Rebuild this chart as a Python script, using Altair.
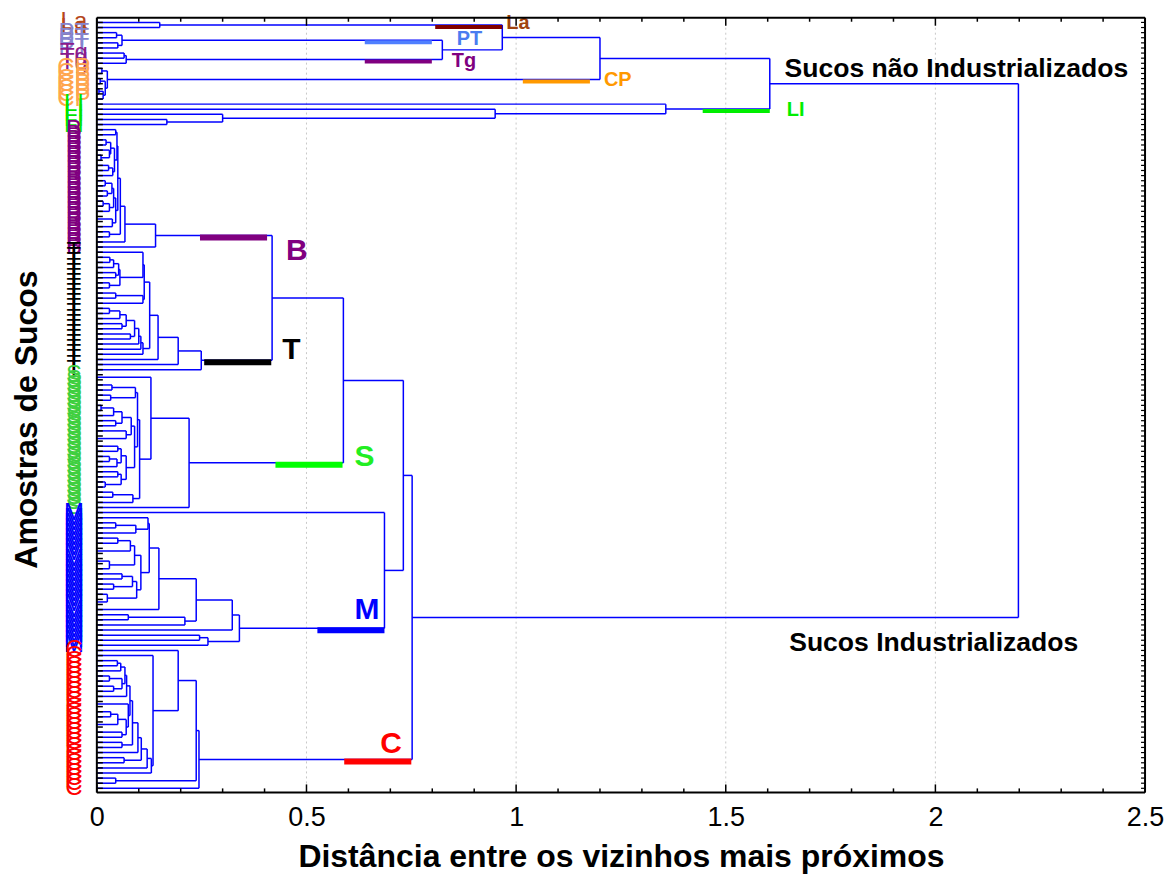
import altair as alt
import pandas as pd

L = 0  # one juice sample (leaf)

# ---- dendrogram: [merge distance, child, child, ...] ----
tree_La = [0.15, L, L]
tree_PT = [0.06, [0.047, L, L], [0.05, L, L]]
tree_Tg = [0.07, [0.065, L, L], L]
tree_CP = [0.025, [0.012, L, L], [0.02, [0.008, L, L], [0.015, [0.005, L, L], L]]]
tree_LI = [1.357, L, [0.95, L, [0.3, L, [0.167, L, L]]]]

B_top = [0.048, [0.045, L, L], [0.042, [0.033, [0.022, L, L], [0.03, L, [0.01, L, L]]], [0.038, [0.028, L, L], L]]]
B_mid = [0.045, [0.04, [0.036, [0.02, L, L], [0.025, L, L]], [0.03, [0.015, L, L], L]], [0.037, [0.0, L, L], L]]
tree_B = [0.14, [0.067, [0.056, [0.05, B_top, B_mid], [0.03, L, L]], L], L]

T_a1 = [0.055, [0.052, [0.04, [0.031, L, L], L], [0.045, L, L]], [0.03, L, L]]
T_a = [0.113, [0.11, L, T_a1], [0.11, [0.045, L, L], L]]
T_b = [0.11, [0.105, [0.1, [0.09, [0.07, [0.055, [0.03, L, L], L], [0.06, L, L]], [0.08, L, L]], L], L], L]
tree_T = [0.249, [0.194, [0.146, [0.126, T_a, T_b], L], L], L]

S_a = [0.092, [0.036, L, L], [0.033, L, L]]
S_b1 = [0.082, [0.06, [0.04, [0.01, L, L], L], [0.045, L, L]], [0.07, L, [0.0, L, L]]]
S_b2 = [0.07, [0.058, [0.05, L, L], [0.048, [0.03, L, L], L]], [0.058, [0.05, L, L], [0.02, L, L]]]
tree_S = [0.22, [0.129, [0.0, L, L], [0.102, [0.097, S_a, [0.09, S_b1, S_b2]], [0.086, [0.038, L, L], L]]], L]

M_d = [0.105, [0.09, [0.08, [0.05, L, L], [0.0, L, L]], [0.03, [0.0, L, L], L]],
       [0.095, [0.085, [0.06, L, L], [0.04, L, L]], [0.025, L, [0.0, L, L]]]]
M_c = [0.148, [0.125, [0.122, L, [0.093, [0.045, L, L], L]], M_d], L]
M_main = [0.34, [0.323, [0.237, M_c, [0.21, [0.075, L, L], L]], L], [0.265, [0.245, L, L], L]]
tree_M = [0.686, L, M_main]

C_top = [0.071, [0.067, [0.057, [0.049, L, L], L], [0.06, [0.03, L, L], [0.04, L, L]]], L]
C_mid = [0.075, [0.0, L, L], [0.07, [0.05, [0.033, L, L], [0.0, L, L]], [0.06, L, L]]]
C_chain = [0.13, [0.12, [0.106, [0.098, [0.085, [0.079, C_top, C_mid], [0.06, L, L]], L], [0.065, L, L]], L], L]
C_big = [0.134, L, C_chain]
tree_C = [0.2436, [0.237, [0.194, L, C_big], [0.045, L, L]], L]

tree_NI = [1.605, [1.2, [0.967, tree_La, [0.824, tree_PT, tree_Tg]], tree_CP], tree_LI]
tree_I = [0.752, [0.731, [0.588, [0.418, tree_B, tree_T], tree_S], tree_M], tree_C]
tree_all = [2.198, tree_NI, tree_I]

group_names = ["La", "PT", "Tg", "CP", "LI", "B", "T", "S", "M", "C"]
group_trees = [tree_La, tree_PT, tree_Tg, tree_CP, tree_LI, tree_B, tree_T, tree_S, tree_M, tree_C]
bar_nodes = [tree_La, tree_PT, tree_Tg, tree_CP, tree_LI, tree_B, tree_T, tree_S, M_main, tree_C]

x_ticks = [0, 0.5, 1, 1.5, 2, 2.5]
x_minor = [0.1, 0.2, 0.3, 0.4, 0.6, 0.7, 0.8, 0.9, 1.1, 1.2, 1.3, 1.4,
           1.6, 1.7, 1.8, 1.9, 2.1, 2.2, 2.3, 2.4]
x_grid = [0.5, 1, 1.5, 2]

# ---- styles ----
leaf_color = {"La": "#b5461b", "PT": "#8585d0", "Tg": "#8b1a8b", "CP": "#ffa64d", "LI": "#00e600",
              "B": "#800080", "T": "#000000", "S": "#3fcf3f", "M": "#0000ff", "C": "#ff0000"}
bar_color = {"La": "#800000", "PT": "#4f7fff", "Tg": "#800080", "CP": "#ff9900", "LI": "#00ee00",
             "B": "#800080", "T": "#000000", "S": "#00ff00", "M": "#0000ff", "C": "#ff0000"}
text_color = {"La": "#a0420f", "PT": "#4a7cf0", "Tg": "#800080", "CP": "#ff9900", "LI": "#00ee00",
              "B": "#800080", "T": "#000000", "S": "#22ee22", "M": "#0000ff", "C": "#ff0000"}
# gap before parent merge, bar width, label dx, dy (relative to bar), label size
style = {"La": (0.0, 4, 4, -4, 20), "PT": (0.025, 4, 25, -3, 20), "Tg": (0.025, 4, 20, 0, 20),
         "CP": (0.024, 4, 14, -2, 20), "LI": (0.0, 4, 17, -1, 20),
         "B": (0.012, 6, 19, 13, 30), "T": (0.002, 6, 11, -12, 30), "S": (0.002, 6, 12, -8, 30),
         "M": (0.0, 6, -30, -20, 30), "C": (0.002, 6, -31, -17, 30)}
BAR_LEN = 0.16
FONT = "Liberation Sans"
W, H = 1050, 776

# ---- walk the tree ----
group_of = {id(t): g for g, t in zip(group_names, group_trees)}
segs, leaves, pos, parent_h = [], [], {}, {}
counter = [0]


def walk(node, grp):
    grp = group_of.get(id(node), grp) if isinstance(node, list) else grp
    if not isinstance(node, list):
        i = counter[0]
        counter[0] += 1
        leaves.append({"leaf": i, "grp": grp, "col": leaf_color.get(grp, "black")})
        return float(i), 0.0
    h = node[0]
    kids = [walk(c, grp) for c in node[1:]]
    for c, (cy, ch) in zip(node[1:], kids):
        if isinstance(c, list):
            parent_h[id(c)] = h
        if h > ch:
            segs.append({"x": ch, "x2": h, "y": cy, "y2": cy})
    ys = [k[0] for k in kids]
    if h > 0:
        segs.append({"x": h, "x2": h, "y": min(ys), "y2": max(ys)})
    y = (min(ys) + max(ys)) / 2
    pos[id(node)] = (y, h)
    return y, h


walk(tree_all, None)
N = counter[0]
seg_df = pd.DataFrame(segs)
leaf_df = pd.DataFrame(leaves)

xs = alt.Scale(domain=[0, 2.5], nice=False, zero=False)
ys = alt.Scale(domain=[-0.92, N - 1 + 0.8], reverse=True, nice=False, zero=False)
xaxis = alt.Axis(values=x_ticks, format="~g", title="Distância entre os vizinhos mais próximos",
                 ticks=False, domain=False, grid=False, labelFontSize=27, labelFont=FONT,
                 labelColor="black", labelPadding=12, labelFlush=False,
                 titleFontSize=32, titleFont=FONT, titleFontWeight="bold", titleColor="black",
                 titlePadding=11)
yaxis = alt.Axis(title="Amostras de Sucos", labels=False, ticks=False, domain=False, grid=False,
                 titleFontSize=32, titleFont=FONT, titleFontWeight="bold", titleColor="black",
                 titlePadding=53, titleY=402)


def X(f):
    return alt.X(f, type="quantitative", scale=xs, axis=xaxis)


def Y(f):
    return alt.Y(f, type="quantitative", scale=ys, axis=yaxis)


layers = []
grid_df = pd.DataFrame({"x": x_grid})
layers.append(alt.Chart(grid_df).mark_rule(color="#c8c8c8", strokeDash=[2, 3], strokeWidth=1).encode(
    x=X("x"), y=alt.value(0), y2=alt.value(H)))

layers.append(alt.Chart(seg_df).mark_rule(color="#0000ff", strokeWidth=1.5).encode(
    x=X("x"), x2="x2:Q", y=Y("y"), y2="y2:Q"))

# group bars and labels
bar_rows = []
for g, node in zip(group_names, bar_nodes):
    gy, gh = pos[id(node)]
    gap, sw, dx, dy, fs = style[g]
    x1 = parent_h[id(node)] - gap
    bar_rows.append({"g": g, "x": x1 - BAR_LEN, "x2": x1, "y": gy, "col": bar_color[g], "sw": sw})
bar_df = pd.DataFrame(bar_rows)
layers.append(alt.Chart(bar_df).mark_rule(yOffset=2).encode(
    x=X("x"), x2="x2:Q", y=Y("y"), color=alt.Color("col:N", scale=None),
    strokeWidth=alt.StrokeWidth("sw:Q", scale=None)))

for r in bar_rows:
    g = r["g"]
    gap, sw, dx, dy, fs = style[g]
    df = pd.DataFrame([{"x": r["x2"], "y": r["y"], "t": g}])
    layers.append(alt.Chart(df).mark_text(align="left", baseline="middle", dx=dx, dy=dy + 2, fontSize=fs,
                                          fontWeight="bold", font=FONT, color=text_color[g]).encode(
        x=X("x"), y=Y("y"), text="t:N"))

# big annotations
ni_y = pos[id(tree_NI)][0]
in_y = pos[id(tree_I)][0]
root_h = tree_all[0]
layers.append(alt.Chart(pd.DataFrame([{"x": root_h, "y": ni_y, "t": "Sucos não Industrializados"}])).mark_text(
    align="right", baseline="middle", dx=110, dy=-15, fontSize=26.6, fontWeight="bold", font=FONT,
    color="black").encode(x=X("x"), y=Y("y"), text="t:N"))
layers.append(alt.Chart(pd.DataFrame([{"x": root_h, "y": in_y, "t": "Sucos Industrializados"}])).mark_text(
    align="right", baseline="middle", dx=60, dy=26, fontSize=26.6, fontWeight="bold", font=FONT,
    color="black").encode(x=X("x"), y=Y("y"), text="t:N"))

# sample labels at the left of the axis
layers.append(alt.Chart(leaf_df).mark_text(align="center", baseline="middle", fontSize=24, font=FONT).encode(
    x=alt.value(-23), y=Y("leaf"), text="grp:N", color=alt.Color("col:N", scale=None)))

# leaf ticks, left and right
layers.append(alt.Chart(leaf_df).mark_rule(color="black", strokeWidth=1.5).encode(
    x=alt.value(0), x2=alt.value(6), y=Y("leaf")))
layers.append(alt.Chart(leaf_df).mark_rule(color="black", strokeWidth=1.2).encode(
    x=alt.value(W), x2=alt.value(W - 4), y=Y("leaf")))

# x ticks top and bottom
maj_df = pd.DataFrame({"x": x_ticks})
min_df = pd.DataFrame({"x": x_minor})
for d, ln in ((maj_df, 8), (min_df, 4)):
    layers.append(alt.Chart(d).mark_rule(color="black", strokeWidth=1.5).encode(
        x=X("x"), y=alt.value(0), y2=alt.value(ln)))
    layers.append(alt.Chart(d).mark_rule(color="black", strokeWidth=1.5).encode(
        x=X("x"), y=alt.value(H), y2=alt.value(H - ln)))

# frame
fr = pd.DataFrame({"a": [0]})
layers.append(alt.Chart(fr).mark_rule(color="black", strokeWidth=2).encode(
    x=alt.value(0), x2=alt.value(W), y=alt.value(0)))
layers.append(alt.Chart(fr).mark_rule(color="black", strokeWidth=2).encode(
    x=alt.value(0), x2=alt.value(W), y=alt.value(H)))
layers.append(alt.Chart(fr).mark_rule(color="black", strokeWidth=2).encode(
    x=alt.value(0), y=alt.value(0), y2=alt.value(H)))
layers.append(alt.Chart(fr).mark_rule(color="black", strokeWidth=2).encode(
    x=alt.value(W), y=alt.value(0), y2=alt.value(H)))

chart = alt.layer(*layers).properties(
    width=W, height=H,
    padding={"left": 89, "top": 9, "right": 20, "bottom": 84},
    autosize=alt.AutoSizeParams(type="none"),
).configure_view(stroke=None)

chart.save("out.html", embed_options={"renderer": "svg", "actions": False})
